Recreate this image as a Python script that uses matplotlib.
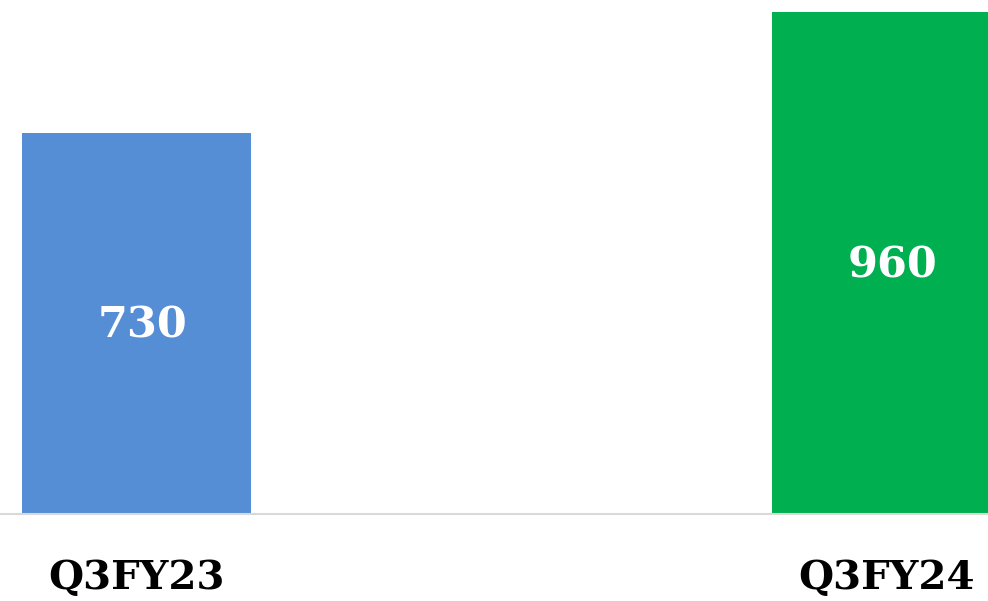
import matplotlib
matplotlib.use("Agg")
import matplotlib.pyplot as plt

categories = ["Q3FY23", "Q3FY24"]
values = [730, 960]
colors = ["#558ED5", "#00B050"]

W, H = 988, 601
fig = plt.figure(figsize=(W / 100, H / 100), dpi=100)
base_px = 513.5
ax = fig.add_axes([0, (H - base_px) / H, 1, base_px / H])

px_per_unit = 381.0 / 730
ax.set_ylim(0, base_px / px_per_unit)
spacing_px = 750.0
bar_w = 229 / spacing_px
left = -136.5 / spacing_px
right = (W - 136.5) / spacing_px
ax.set_xlim(left, right)

x = list(range(len(categories)))
bars = ax.bar(x, values, width=bar_w, color=colors, zorder=2)

font = ["DejaVu Serif"]
for xi, v in zip(x, values):
    ax.text(xi + 6 / spacing_px, v / 2 - 3 / px_per_unit, f"{v}", ha="center", va="center",
            color="white", fontsize=31, fontweight="bold", family=font)

for s in ["top", "right", "left"]:
    ax.spines[s].set_visible(False)
ax.spines["bottom"].set_color("#D9D9D9")
ax.spines["bottom"].set_linewidth(1.5)
ax.set_yticks([])
ax.set_xticks(x)
ax.set_xticklabels(categories, fontsize=29, fontweight="bold", family=font, color="black")
ax.tick_params(axis="x", length=0, pad=33)

fig.savefig("out.png", dpi=100)
